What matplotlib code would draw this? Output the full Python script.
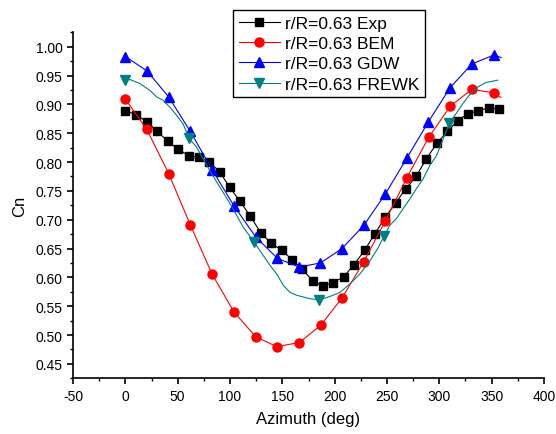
import numpy as np
import matplotlib
matplotlib.use("Agg")
import matplotlib.pyplot as plt
from matplotlib.ticker import MultipleLocator

plt.rcParams['font.family'] = ['Liberation Sans', 'DejaVu Sans']
plt.rcParams['axes.unicode_minus'] = False

# experimental Cn, r/R=0.63
exp_az = [0, 10.3, 20.4, 30.6, 40.7, 50.6, 60.5, 70.4, 80.2, 90.2, 99.7, 109.6, 119.4,
          129.6, 139.5, 149.4, 159.2, 169.1, 179, 188.8, 198.7, 208.6, 218.4, 228.6,
          238.5, 248.3, 258.2, 268.1, 277.8, 287.7, 297.9, 307.7, 317.6, 327.4, 337.3,
          347.2, 357]
exp_cn = [0.889, 0.882, 0.870, 0.853, 0.836, 0.822, 0.811, 0.808, 0.800, 0.783, 0.756,
          0.732, 0.706, 0.677, 0.659, 0.647, 0.631, 0.614, 0.594, 0.585, 0.591, 0.601,
          0.622, 0.647, 0.676, 0.704, 0.729, 0.754, 0.775, 0.806, 0.833, 0.853, 0.872,
          0.884, 0.889, 0.894, 0.892]

# BEM
bem_az = [0, 20.4, 41.4, 62.1, 82.8, 103.8, 124.6, 144.6, 166.3, 186.6, 207, 227.7,
          248.5, 269, 289.9, 310.6, 331, 351.9, 358.7]
bem_cn = [0.909, 0.857, 0.780, 0.691, 0.606, 0.540, 0.497, 0.480, 0.487, 0.517, 0.564,
          0.627, 0.698, 0.773, 0.843, 0.897, 0.926, 0.920, 0.912]

# GDW
gdw_az = [0, 20.7, 41.4, 62.1, 82.8, 103.8, 124.6, 145.3, 166, 186.4, 207, 227.8,
          248.2, 269, 289.6, 310.3, 331, 352.7, 359]
gdw_cn = [0.983, 0.958, 0.913, 0.853, 0.787, 0.724, 0.670, 0.633, 0.618, 0.625, 0.650,
          0.690, 0.744, 0.807, 0.870, 0.929, 0.970, 0.986, 0.981]

# FREWK (dense curve, markers only on some points)
frewk_az = [0, 4.6, 14.1, 23.6, 29.9, 36.2, 42.6, 49, 55.2, 61, 68, 80.7, 100, 112.7,
            123, 131, 138.2, 144.6, 151, 157.3, 163.7, 170.1, 176.5, 185.3, 195.6,
            205.1, 214.7, 224.2, 233.8, 241.8, 247.2, 252.6, 259, 265.4, 271.8, 278.2,
            284.5, 290.9, 297.3, 303.7, 309.3, 316, 322.3, 328.7, 336.6, 344.6, 355.7]
frewk_cn = [0.942, 0.943, 0.936, 0.924, 0.913, 0.907, 0.895, 0.881, 0.866, 0.841, 0.826,
            0.785, 0.728, 0.687, 0.661, 0.640, 0.621, 0.606, 0.586, 0.574, 0.569, 0.566,
            0.563, 0.561, 0.567, 0.574, 0.589, 0.606, 0.629, 0.652, 0.672, 0.690, 0.702,
            0.719, 0.736, 0.754, 0.771, 0.794, 0.811, 0.840, 0.867, 0.884, 0.901, 0.916,
            0.930, 0.938, 0.942]
frewk_marks = [0, 9, 14, 23, 30, 40]

fig = plt.figure(figsize=(5.56, 4.35), dpi=100)
ax = fig.add_axes([73/556, 1-379.3/435, 471/556, 346/435])

lw = 0.8
ax.plot(exp_az, exp_cn, "-s", color="black", lw=lw, ms=5.5, label="r/R=0.63 Exp")
ax.plot(bem_az, bem_cn, "-o", color="red", lw=lw, ms=6.5, markevery=list(range(18)),
        label="r/R=0.63 BEM")
ax.plot(gdw_az, gdw_cn, "-^", color="blue", lw=lw, ms=7, markevery=list(range(18)),
        label="r/R=0.63 GDW")
ax.plot(frewk_az, frewk_cn, "-v", color="#008080", lw=lw, ms=7, markevery=frewk_marks,
        label="r/R=0.63 FREWK")

ax.set_xlim(-50, 400)
ax.set_ylim(0.425, 1.025)
ax.xaxis.set_major_locator(MultipleLocator(50))
ax.xaxis.set_minor_locator(MultipleLocator(25))
ax.yaxis.set_major_locator(MultipleLocator(0.05))
ax.yaxis.set_minor_locator(MultipleLocator(0.025))
ax.yaxis.set_major_formatter(plt.FormatStrFormatter("%.2f"))
ax.spines['top'].set_visible(False)
ax.spines['right'].set_visible(False)
for s in ['left', 'bottom']:
    ax.spines[s].set_linewidth(1.2)
ax.tick_params(which='major', length=4, width=1.2, labelsize=10)
ax.tick_params(which='minor', length=2.5, width=1.0)
ax.set_xlabel("Azimuth (deg)", fontsize=12, labelpad=6)
ax.set_ylabel("Cn", fontsize=12, labelpad=6)

leg = ax.legend(loc="upper left", bbox_to_anchor=(233/556, 1-11/435),
                bbox_transform=fig.transFigure, borderaxespad=0, fontsize=12.5,
                handlelength=2.4, handletextpad=0.3, labelspacing=0.3,
                borderpad=0.32, numpoints=1, fancybox=False, framealpha=1)
leg.get_frame().set_edgecolor("black")
leg.get_frame().set_linewidth(1.0)

fig.savefig("out.png", dpi=100)
